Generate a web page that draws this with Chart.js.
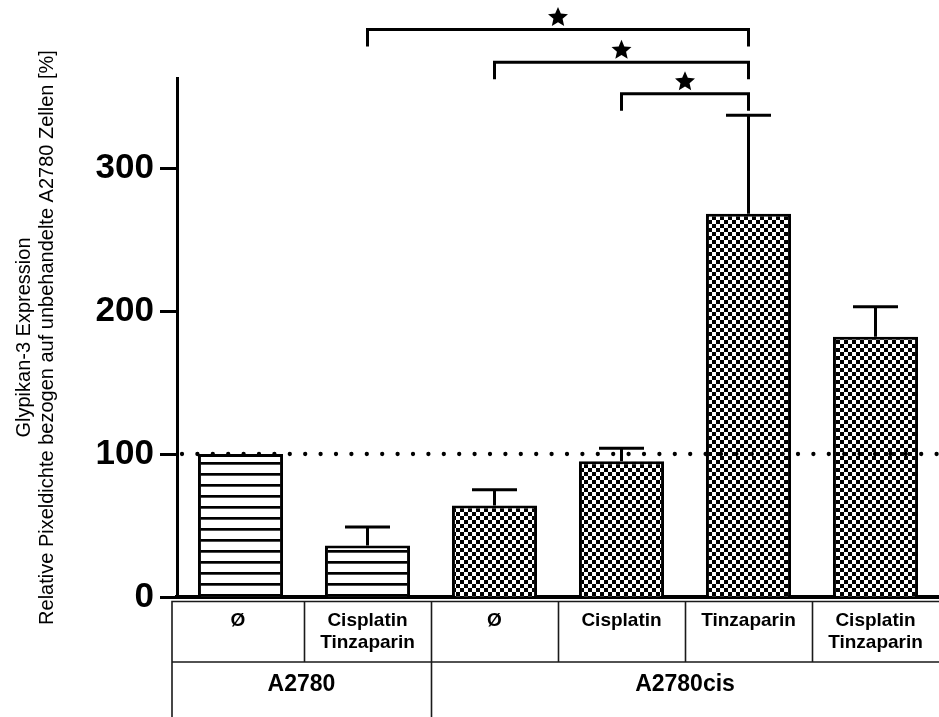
<!DOCTYPE html>
<html>
<head>
<meta charset="utf-8">
<script src="https://cdn.jsdelivr.net/npm/chart.js@4"></script>
<style>
  html, body { margin: 0; padding: 0; background: #fff; overflow: hidden; }
  canvas { display: block; }
</style>
</head>
<body>
<canvas id="c" width="939" height="717"></canvas>
<script>
// Treatment labels per column of the table (one entry per line)
const treatmentLines = [
  ['Ø'],
  ['Cisplatin', 'Tinzaparin'],
  ['Ø'],
  ['Cisplatin'],
  ['Tinzaparin'],
  ['Cisplatin', 'Tinzaparin']
];
// Cell lines and how many columns each spans
const cellLines = ['A2780', 'A2780cis'];
const cellLineSpan = [2, 4];

// Glypican-3 expression, mean and SD (percent of untreated A2780)
const meanValues = [100, 36, 64, 95, 268, 182];
const sdValues = [0, 13, 11, 9, 69, 21];

// Reference level of untreated A2780 cells
const referenceLevel = 100;

// Significance brackets: from column, to column, height in axis units
const sigFrom = [1, 2, 3];
const sigTo = [4, 4, 4];
const sigLevel = [397, 374, 352];

// Y axis
const yTicks = [0, 100, 200, 300];
const yMax = 363;

const FONT = "'Liberation Sans', Arial, sans-serif";

const canvas = document.getElementById('c');
const ctx = canvas.getContext('2d');

function makeStripes() {
  const t = document.createElement('canvas');
  t.width = 8; t.height = 11;
  const g = t.getContext('2d');
  g.fillStyle = '#fff'; g.fillRect(0, 0, 8, 11);
  g.fillStyle = '#000'; g.fillRect(0, 0, 8, 2.7);
  return ctx.createPattern(t, 'repeat');
}
function makeChecker() {
  const t = document.createElement('canvas');
  t.width = 8; t.height = 8;
  const g = t.getContext('2d');
  g.fillStyle = '#fff'; g.fillRect(0, 0, 8, 8);
  g.fillStyle = '#000';
  g.fillRect(0, 0, 4, 4);
  g.fillRect(4, 4, 4, 4);
  return ctx.createPattern(t, 'repeat');
}
const stripes = makeStripes();
const checker = makeChecker();
// first cell line (A2780) striped, second (A2780cis) checkered
const fills = [];
cellLineSpan.forEach((n, gi) => { for (let k = 0; k < n; k++) fills.push(gi === 0 ? stripes : checker); });

function drawStar(g, cx, cy, R, r) {
  g.beginPath();
  for (let i = 0; i < 10; i++) {
    const rad = i % 2 === 0 ? R : r;
    const a = -Math.PI / 2 + i * Math.PI / 5;
    const px = cx + rad * Math.cos(a), py = cy + rad * Math.sin(a);
    if (i === 0) g.moveTo(px, py); else g.lineTo(px, py);
  }
  g.closePath();
  g.fill();
}

const overlay = {
  id: 'overlay',
  afterDatasetsDraw(chart) {
    const g = chart.ctx;
    const xs = chart.scales.x, ys = chart.scales.y;
    const area = chart.chartArea;
    g.save();
    g.strokeStyle = '#000';
    g.fillStyle = '#000';

    // error bars (upper SD)
    g.lineWidth = 3;
    g.lineCap = 'butt';
    meanValues.forEach((m, i) => {
      if (!sdValues[i]) return;
      const x = xs.getPixelForValue(i);
      const y0 = ys.getPixelForValue(m);
      const y1 = ys.getPixelForValue(m + sdValues[i]);
      g.beginPath();
      g.moveTo(x, y0); g.lineTo(x, y1);
      g.moveTo(x - 22.5, y1); g.lineTo(x + 22.5, y1);
      g.stroke();
    });

    // dotted reference line
    const yr = ys.getPixelForValue(referenceLevel);
    g.lineWidth = 4.3;
    g.lineCap = 'round';
    g.setLineDash([0, 15.4]);
    g.beginPath();
    g.moveTo(area.left + 5, yr);
    g.lineTo(chart.width, yr);
    g.stroke();
    g.setLineDash([]);

    // significance brackets with stars
    g.lineWidth = 3;
    g.lineCap = 'butt';
    g.lineJoin = 'miter';
    sigLevel.forEach((lv, k) => {
      const xa = xs.getPixelForValue(sigFrom[k]);
      const xb = xs.getPixelForValue(sigTo[k]);
      const y = ys.getPixelForValue(lv);
      g.beginPath();
      g.moveTo(xa, y + 17); g.lineTo(xa, y); g.lineTo(xb, y); g.lineTo(xb, y + 17);
      g.stroke();
      drawStar(g, (xa + xb) / 2, y - 12, 10.5, 4.8);
    });
    g.restore();
  },
  afterDraw(chart) {
    const g = chart.ctx;
    const xs = chart.scales.x;
    const area = chart.chartArea;
    const n = meanValues.length;
    const top = area.bottom + 4.5;
    const mid = area.bottom + 65;
    const bottom = chart.height;
    const left = area.left - 5;
    const right = xs.right;
    const edge = i => (i === 0 ? left : (i === n ? right : xs.getPixelForValue(i - 0.5)));

    g.save();
    g.strokeStyle = '#1a1a1a';
    g.lineWidth = 1.6;
    g.beginPath();
    g.moveTo(left, bottom); g.lineTo(left, top); g.lineTo(chart.width, top);
    g.moveTo(left, mid); g.lineTo(chart.width, mid);
    for (let i = 1; i < n; i++) {
      const x = Math.round(edge(i)) + 0.5;
      g.moveTo(x, top); g.lineTo(x, mid);
    }
    // group divider in the lower row
    let acc = 0;
    cellLineSpan.slice(0, -1).forEach(s => {
      acc += s;
      const x = Math.round(edge(acc)) + 0.5;
      g.moveTo(x, mid); g.lineTo(x, bottom);
    });
    g.stroke();

    g.fillStyle = '#000';
    g.textAlign = 'center';
    g.textBaseline = 'middle';
    g.font = 'bold 19px ' + FONT;
    treatmentLines.forEach((lines, i) => {
      const cx = (edge(i) + edge(i + 1)) / 2;
      lines.forEach((t, j) => g.fillText(t, cx, top + 19 + j * 22));
    });
    g.font = 'bold 23px ' + FONT;
    let start = 0;
    cellLines.forEach((name, gi) => {
      const cx = (edge(start) + edge(start + cellLineSpan[gi])) / 2;
      g.fillText(name, cx, mid + 23);
      start += cellLineSpan[gi];
    });
    g.restore();
  }
};

new Chart(canvas, {
  type: 'bar',
  data: {
    labels: treatmentLines.map(l => l.join(' ')),
    datasets: [{
      data: meanValues,
      backgroundColor: fills,
      borderColor: '#000',
      borderWidth: 3,
      barPercentage: 0.67,
      categoryPercentage: 1
    }]
  },
  options: {
    responsive: false,
    devicePixelRatio: 1,
    animation: false,
    layout: { padding: { left: 0, right: -4.5, top: 78, bottom: 120 } },
    plugins: { legend: { display: false }, tooltip: { enabled: false } },
    scales: {
      x: {
        ticks: { display: false },
        grid: { display: false },
        border: { display: true, color: '#000', width: 4 },
        afterFit: s => { s.height = 0; }
      },
      y: {
        min: 0,
        max: yMax,
        afterBuildTicks: s => { s.ticks = yTicks.map(v => ({ value: v })); },
        ticks: {
          color: '#000',
          padding: 6,
          font: { family: FONT, size: 35, weight: 'bold' }
        },
        grid: {
          drawOnChartArea: false,
          drawTicks: true,
          tickLength: 17,
          tickWidth: 3,
          tickColor: '#000',
          color: '#000'
        },
        border: { display: true, color: '#000', width: 3 },
        title: {
          display: true,
          text: ['Glypikan-3 Expression', 'Relative Pixeldichte bezogen auf unbehandelte A2780 Zellen [%]'],
          color: '#000',
          font: { family: FONT, size: 20, weight: 'normal', lineHeight: 1.15 },
          padding: { top: 13, bottom: 0 }
        },
        afterFit: s => { s.width = 177; }
      }
    }
  },
  plugins: [overlay]
});
</script>
</body>
</html>
